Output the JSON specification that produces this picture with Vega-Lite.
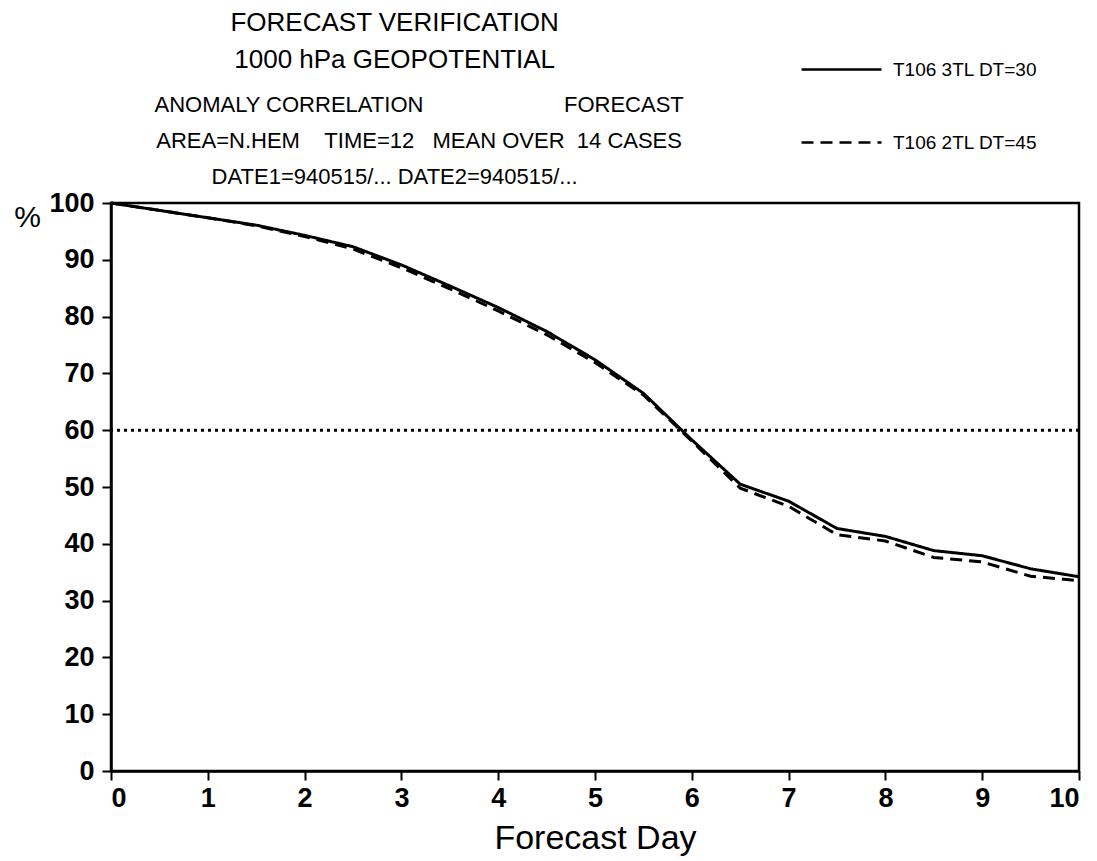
{
  "$schema": "https://vega.github.io/schema/vega-lite/v6.json",
  "width": 968,
  "height": 568,
  "autosize": {"type": "none"},
  "padding": {"left": 111, "top": 203, "right": 18, "bottom": 90},
  "background": "white",
  "title": {
    "text": ["FORECAST VERIFICATION", "1000 hPa GEOPOTENTIAL"],
    "subtitle": ["\u200b\u00a0\u00a0\u00a0\u00a0\u00a0\u00a0\u00a0\u00a0ANOMALY CORRELATION\u00a0\u00a0\u00a0\u00a0\u00a0\u00a0\u00a0\u00a0\u00a0\u00a0\u00a0\u00a0\u00a0\u00a0\u00a0\u00a0\u00a0\u00a0\u00a0\u00a0\u00a0\u00a0\u00a0FORECAST", "\u200b\u00a0\u00a0\u00a0\u00a0\u00a0\u00a0\u00a0\u00a0AREA=N.HEM\u00a0\u00a0\u00a0\u00a0TIME=12\u00a0\u00a0\u00a0MEAN OVER\u00a0\u00a014 CASES", "DATE1=940515/... DATE2=940515/..."],
    "anchor": "start",
    "align": "center",
    "dx": 381,
    "offset": -160,
    "font": "Liberation Sans",
    "fontSize": 26,
    "fontWeight": "normal",
    "lineHeight": 37,
    "subtitleFont": "Liberation Sans",
    "subtitleFontSize": 22,
    "subtitleLineHeight": 36,
    "subtitlePadding": 22,
    "color": "black",
    "subtitleColor": "black"
  },
  "data": {
    "values": [
      {"day": 0, "acc": 100, "run": "T106 3TL DT=30"},
      {"day": 0.5, "acc": 98.7, "run": "T106 3TL DT=30"},
      {"day": 1, "acc": 97.4, "run": "T106 3TL DT=30"},
      {"day": 1.5, "acc": 96.1, "run": "T106 3TL DT=30"},
      {"day": 2, "acc": 94.3, "run": "T106 3TL DT=30"},
      {"day": 2.5, "acc": 92.3, "run": "T106 3TL DT=30"},
      {"day": 3, "acc": 89.1, "run": "T106 3TL DT=30"},
      {"day": 3.5, "acc": 85.4, "run": "T106 3TL DT=30"},
      {"day": 4, "acc": 81.6, "run": "T106 3TL DT=30"},
      {"day": 4.5, "acc": 77.4, "run": "T106 3TL DT=30"},
      {"day": 5, "acc": 72.4, "run": "T106 3TL DT=30"},
      {"day": 5.5, "acc": 66.5, "run": "T106 3TL DT=30"},
      {"day": 6, "acc": 58.3, "run": "T106 3TL DT=30"},
      {"day": 6.5, "acc": 50.5, "run": "T106 3TL DT=30"},
      {"day": 7, "acc": 47.5, "run": "T106 3TL DT=30"},
      {"day": 7.5, "acc": 42.7, "run": "T106 3TL DT=30"},
      {"day": 8, "acc": 41.3, "run": "T106 3TL DT=30"},
      {"day": 8.5, "acc": 38.8, "run": "T106 3TL DT=30"},
      {"day": 9, "acc": 37.9, "run": "T106 3TL DT=30"},
      {"day": 9.5, "acc": 35.6, "run": "T106 3TL DT=30"},
      {"day": 10, "acc": 34.2, "run": "T106 3TL DT=30"},
      {"day": 0, "acc": 100, "run": "T106 2TL DT=45"},
      {"day": 0.5, "acc": 98.7, "run": "T106 2TL DT=45"},
      {"day": 1, "acc": 97.4, "run": "T106 2TL DT=45"},
      {"day": 1.5, "acc": 96.0, "run": "T106 2TL DT=45"},
      {"day": 2, "acc": 94.1, "run": "T106 2TL DT=45"},
      {"day": 2.5, "acc": 91.9, "run": "T106 2TL DT=45"},
      {"day": 3, "acc": 88.6, "run": "T106 2TL DT=45"},
      {"day": 3.5, "acc": 84.9, "run": "T106 2TL DT=45"},
      {"day": 4, "acc": 81.0, "run": "T106 2TL DT=45"},
      {"day": 4.5, "acc": 76.8, "run": "T106 2TL DT=45"},
      {"day": 5, "acc": 71.9, "run": "T106 2TL DT=45"},
      {"day": 5.5, "acc": 66.2, "run": "T106 2TL DT=45"},
      {"day": 6, "acc": 58.1, "run": "T106 2TL DT=45"},
      {"day": 6.5, "acc": 49.8, "run": "T106 2TL DT=45"},
      {"day": 7, "acc": 46.6, "run": "T106 2TL DT=45"},
      {"day": 7.5, "acc": 41.6, "run": "T106 2TL DT=45"},
      {"day": 8, "acc": 40.5, "run": "T106 2TL DT=45"},
      {"day": 8.5, "acc": 37.6, "run": "T106 2TL DT=45"},
      {"day": 9, "acc": 36.8, "run": "T106 2TL DT=45"},
      {"day": 9.5, "acc": 34.3, "run": "T106 2TL DT=45"},
      {"day": 10, "acc": 33.5, "run": "T106 2TL DT=45"}
    ]
  },
  "layer": [
    {
      "data": {"values": [{"ref": 60}]},
      "mark": {"type": "rule", "color": "black", "strokeWidth": 3, "strokeDash": [3, 4]},
      "encoding": {"y": {"field": "ref", "type": "quantitative"}}
    },
    {
      "mark": {"type": "line", "color": "black", "strokeWidth": 3},
      "encoding": {
        "x": {
          "field": "day", "type": "quantitative",
          "scale": {"domain": [0, 10], "nice": false},
          "axis": {
            "title": "Forecast Day", "values": [0,1,2,3,4,5,6,7,8,9,10], "format": "d",
            "labelFontSize": 27, "labelFontWeight": "bold", "labelFont": "Liberation Sans",
            "labelPadding": 5, "titleFontSize": 34, "titleFontWeight": "normal", "titleFont": "Liberation Sans",
            "titlePadding": 10, "tickSize": 9
          }
        },
        "y": {
          "field": "acc", "type": "quantitative",
          "scale": {"domain": [0, 100], "nice": false},
          "axis": {
            "title": "%", "titleAngle": 0, "titleX": -84, "titleY": 14, "titleAlign": "center", "titleBaseline": "middle",
            "values": [0,10,20,30,40,50,60,70,80,90,100],
            "labelFontSize": 27, "labelFontWeight": "bold", "labelFont": "Liberation Sans",
            "labelPadding": 8, "titleFontSize": 30, "titleFontWeight": "normal", "titleFont": "Liberation Sans",
            "tickSize": 9
          }
        },
        "strokeDash": {
          "field": "run", "type": "nominal",
          "scale": {"domain": ["T106 3TL DT=30", "T106 2TL DT=45"], "range": [[1, 0], [12, 7]]},
          "legend": {
            "title": null, "orient": "none", "legendX": 689, "legendY": -175,
            "symbolType": "stroke", "symbolSize": 6400, "symbolStrokeWidth": 2.5, "symbolStrokeColor": "black",
            "labelFontSize": 19, "labelFont": "Liberation Sans", "labelColor": "black",
            "rowPadding": 21, "labelOffset": 10
          }
        }
      }
    }
  ],
  "config": {
    "view": {"stroke": "black", "strokeWidth": 2.5},
    "axis": {"grid": false, "domainColor": "black", "domainWidth": 2.5, "tickColor": "black", "tickWidth": 2, "labelColor": "black", "titleColor": "black"}
  }
}
